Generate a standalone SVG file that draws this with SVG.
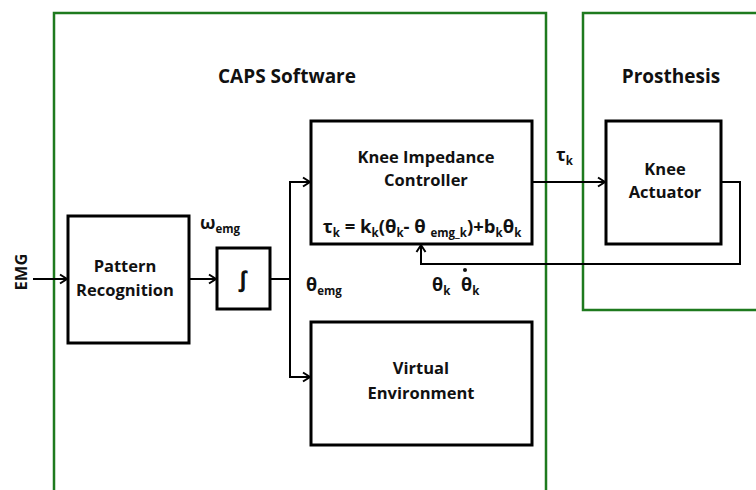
<svg xmlns="http://www.w3.org/2000/svg" width="756" height="490" viewBox="0 0 756 490">
<defs>
<marker id="arr" markerWidth="12" markerHeight="12" refX="10" refY="6" orient="auto" markerUnits="userSpaceOnUse">
<polyline points="3,1.5 10,6 3,10.5" fill="none" stroke="#000" stroke-width="2"/>
</marker>
<style>
.grp{fill:none;stroke:#1e7a1e;stroke-width:2.5}
.box{fill:#fff;stroke:#000;stroke-width:3}
.ln{fill:none;stroke:#000;stroke-width:2}
text{font-family:"Open Sans","Liberation Sans",sans-serif;font-weight:700;fill:#111;text-anchor:middle}
.t{font-size:16.5px}
.h{font-size:19px}
.m{font-size:18px;text-anchor:start}
.s{font-size:11.5px}
</style>
</defs>
<rect width="756" height="490" fill="#fff"/>
<g id="caps-software">
<path class="grp" d="M54,492 V13 H546 V492"/>
<text class="h" x="287" y="83">CAPS Software</text>
</g>
<g id="prosthesis">
<path class="grp" d="M760,310 H583 V13 H760"/>
<text class="h" x="671" y="83">Prosthesis</text>
</g>
<g id="connectors">
<line class="ln" x1="33" y1="279" x2="67" y2="279" marker-end="url(#arr)"/>
<line class="ln" x1="189" y1="279" x2="216" y2="279" marker-end="url(#arr)"/>
<polyline class="ln" points="270,279 290,279"/>
<polyline class="ln" points="290,377 290,182 310,182" marker-end="url(#arr)"/>
<polyline class="ln" points="290,279 290,377 310,377" marker-end="url(#arr)"/>
<line class="ln" x1="532" y1="182" x2="605" y2="182" marker-end="url(#arr)"/>
<polyline class="ln" points="721,182 740,182 740,264 421,264 421,245" marker-end="url(#arr)"/>
</g>
<g id="emg-label">
<text class="t" transform="translate(27,272) rotate(-90)">EMG</text>
</g>
<g id="pattern-recognition">
<rect class="box" x="68" y="216" width="121" height="127"/>
<text class="t" x="125" y="272">Pattern</text>
<text class="t" x="125" y="296">Recognition</text>
</g>
<g id="omega-label">
<text class="m" x="200" y="229">ω<tspan class="s" dy="4">emg</tspan></text>
</g>
<g id="integrator">
<rect class="box" x="217" y="248" width="53" height="61"/>
<text class="t" x="243" y="287" style="font-size:22px">∫</text>
</g>
<g id="theta-emg-label">
<text class="m" x="306" y="291">θ<tspan class="s" dy="4">emg</tspan></text>
</g>
<g id="knee-impedance-controller">
<rect class="box" x="311" y="121" width="221" height="123"/>
<text class="t" x="426" y="163">Knee Impedance</text>
<text class="t" x="426" y="186">Controller</text>
<text class="t" x="422" y="233" style="font-size:18.5px">τ<tspan class="s" dy="4">k</tspan><tspan dy="-4"> = k</tspan><tspan class="s" dy="4">k</tspan><tspan dy="-4">(θ</tspan><tspan class="s" dy="4">k</tspan><tspan dy="-4">- θ </tspan><tspan class="s" dy="4">emg_k</tspan><tspan dy="-4">)+b</tspan><tspan class="s" dy="4">k</tspan><tspan dy="-4">θ</tspan><tspan class="s" dy="4">k</tspan></text>
</g>
<g id="feedback-labels">
<text class="m" x="432" y="291">θ<tspan class="s" dy="4">k</tspan></text>
<text class="m" x="461" y="291">θ<tspan class="s" dy="4">k</tspan></text>
<circle cx="465" cy="270" r="2" fill="#111"/>
</g>
<g id="tau-label">
<text class="m" x="556" y="161">τ<tspan class="s" dy="4">k</tspan></text>
</g>
<g id="knee-actuator">
<rect class="box" x="606" y="121" width="115" height="123"/>
<text class="t" x="665" y="175">Knee</text>
<text class="t" x="665" y="198">Actuator</text>
</g>
<g id="virtual-environment">
<rect class="box" x="311" y="322" width="221" height="123"/>
<text class="t" x="421" y="374">Virtual</text>
<text class="t" x="421" y="399">Environment</text>
</g>
</svg>
